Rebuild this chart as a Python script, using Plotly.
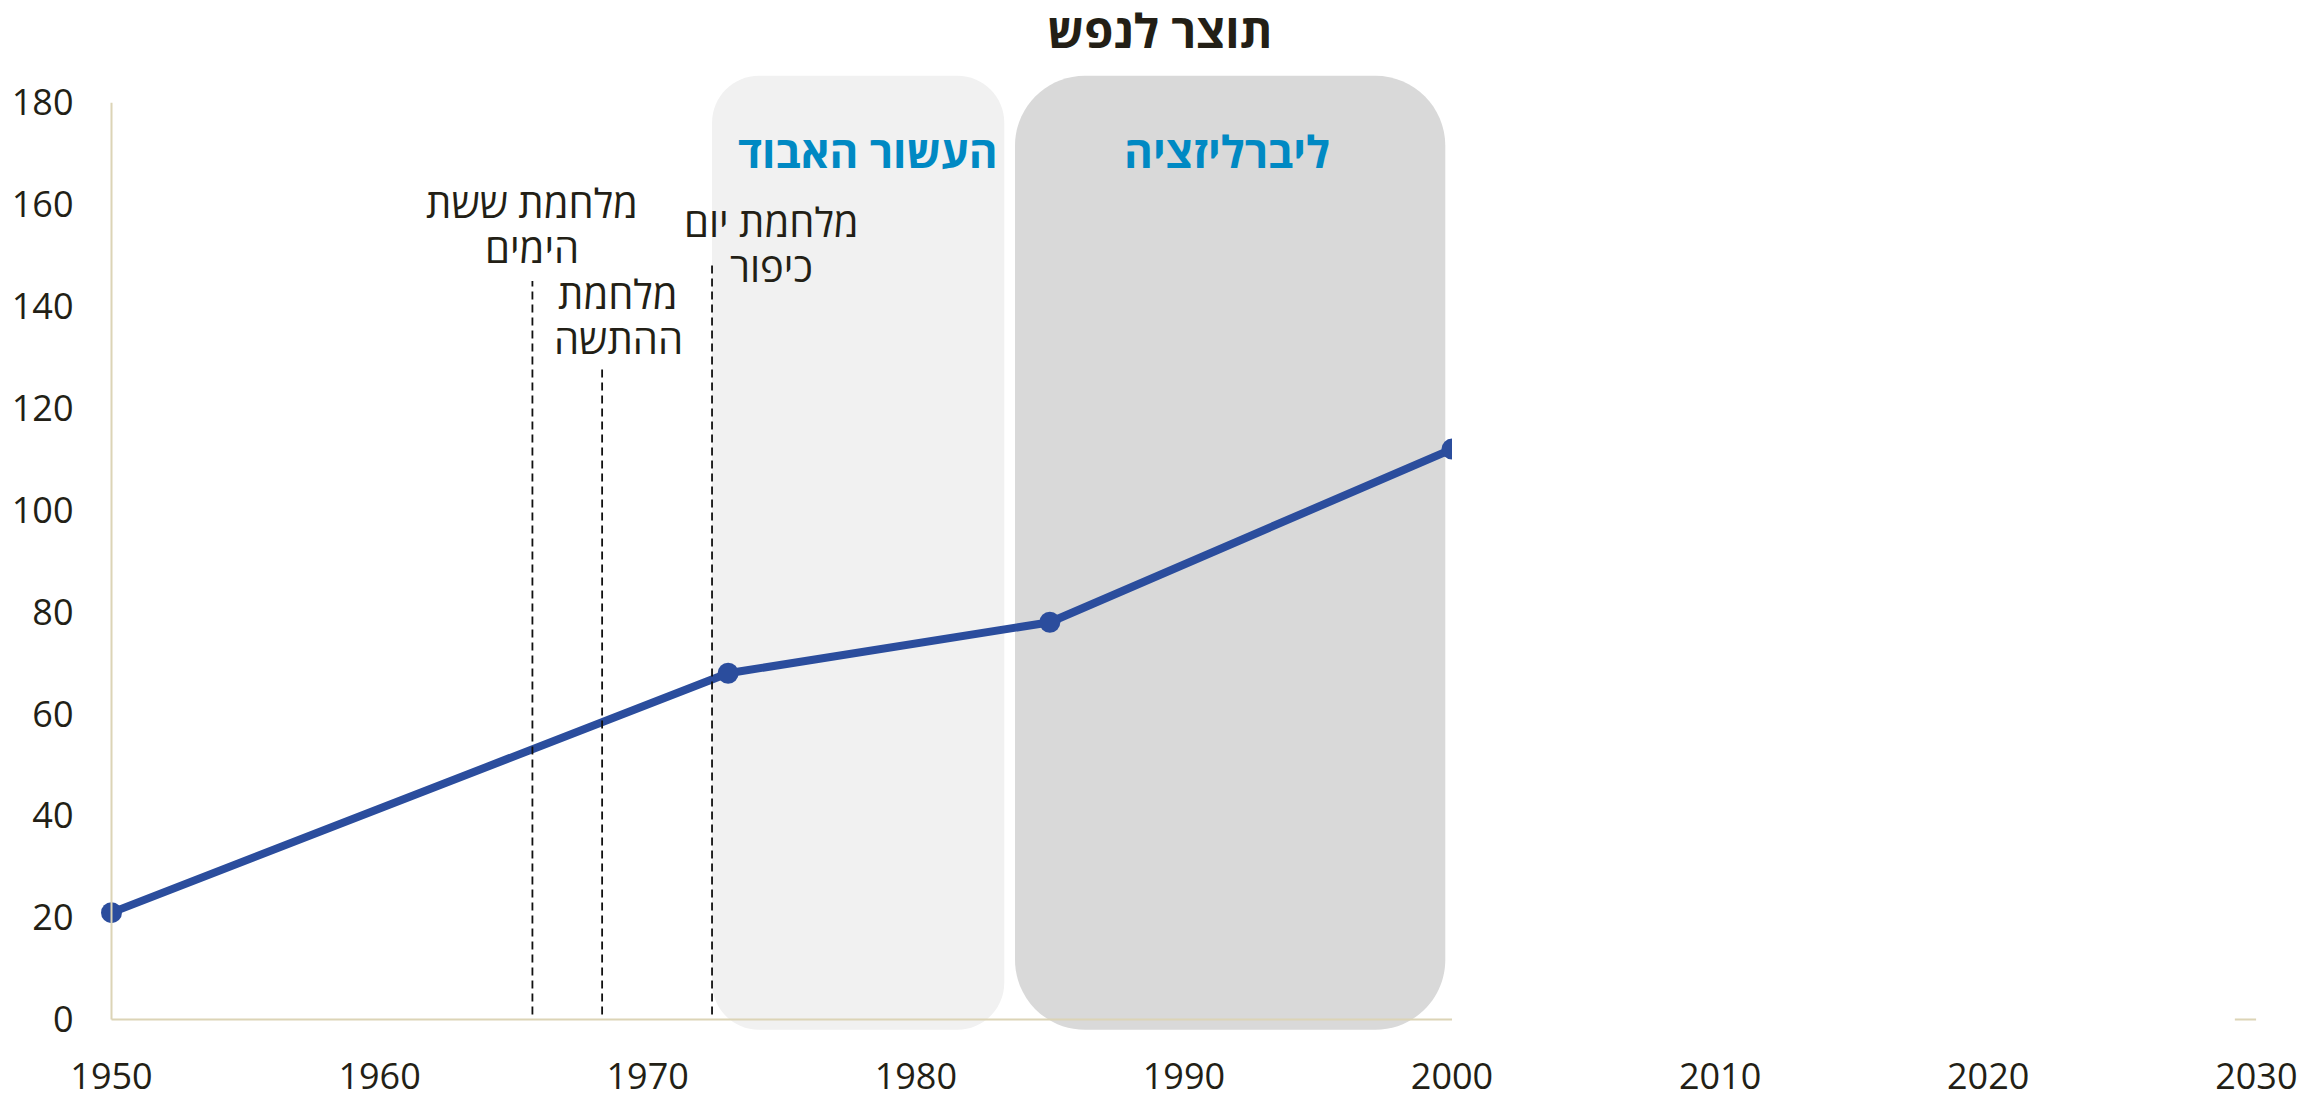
import plotly.graph_objects as go

# ---------------- data ----------------
years = [1950, 1973, 1985, 2000]
gdp_per_capita = [21, 68, 78, 112]

war_names = [["מלחמת ששת", "הימים"], ["מלחמת", "ההתשה"], ["מלחמת יום", "כיפור"]]
war_years = [1965.7, 1968.3, 1972.4]
war_line_tops = [145, 128, 149]
war_label_x = [1965.7, 1968.9, 1974.6]
war_label_y = [160.4, 142.6, 156.7]   # first line centre

era_names = ["העשור האבוד", "ליברליזציה"]
era_start = [1972.4, 1983.7]
era_end = [1983.3, 1999.75]
era_label_x = [1978.2, 1991.6]
era_label_y = [170.5, 170.5]
era_colors = ["#f1f1f1", "#d9d9d9"]
era_radius_px = [47, 70]

x_ticks = [1950, 1960, 1970, 1980, 1990, 2000, 2010, 2020, 2030]
y_ticks = [0, 20, 40, 60, 80, 100, 120, 140, 160, 180]

title_text = "תוצר לנפש"

# ---------------- geometry ----------------
W, H = 2300, 1094
MT, MB = 67, 54
Y_RANGE = [-4, 187]
px_1950 = 111.5
px_per_year = 26.81
px_per_unit = (H - MT - MB) / (Y_RANGE[1] - Y_RANGE[0])
LINE_GAP_PX = 45


def xfrac(year):
    return (px_1950 + (year - 1950) * px_per_year) / W


FONT = "Open Sans, DejaVu Sans, sans-serif"
TXT = "#231f16"
AXIS_COL = "#dcd4b6"
BLUE_TXT = "#0089c3"
LINE_COL = "#2b4d9d"


def rounded_rect(x0, x1, y0, y1, r_px):
    rx = r_px / px_per_year
    ry = r_px / px_per_unit
    k = 0.5523
    p = [
        f"M {x0 + rx},{y1}",
        f"L {x1 - rx},{y1}",
        f"C {x1 - rx + k * rx},{y1} {x1},{y1 - ry + k * ry} {x1},{y1 - ry}",
        f"L {x1},{y0 + ry}",
        f"C {x1},{y0 + ry - k * ry} {x1 - rx + k * rx},{y0} {x1 - rx},{y0}",
        f"L {x0 + rx},{y0}",
        f"C {x0 + rx - k * rx},{y0} {x0},{y0 + ry - k * ry} {x0},{y0 + ry}",
        f"L {x0},{y1 - ry}",
        f"C {x0},{y1 - ry + k * ry} {x0 + rx - k * rx},{y1} {x0 + rx},{y1}",
        "Z",
    ]
    return " ".join(p)


fig = go.Figure()

fig.add_trace(go.Scatter(
    x=years, y=gdp_per_capita, mode="lines+markers",
    line=dict(color=LINE_COL, width=8),
    marker=dict(color=LINE_COL, size=21),
    cliponaxis=True, showlegend=False, hoverinfo="x+y",
    xaxis="x", yaxis="y",
))
# empty trace to host the tick axis
fig.add_trace(go.Scatter(x=[], y=[], xaxis="x2", yaxis="y", showlegend=False, hoverinfo="skip"))

shapes = []
for s, e, c, r in zip(era_start, era_end, era_colors, era_radius_px):
    shapes.append(dict(type="path", xref="x", yref="y", layer="below",
                       path=rounded_rect(s, e, -2.0, 185.3, r),
                       fillcolor=c, line=dict(width=0)))
# axis lines
shapes.append(dict(type="line", xref="x", yref="y", x0=1950, x1=1950, y0=0, y1=180,
                   line=dict(color=AXIS_COL, width=2)))
shapes.append(dict(type="line", xref="x", yref="y", x0=1950, x1=2000, y0=0, y1=0,
                   line=dict(color=AXIS_COL, width=2)))
shapes.append(dict(type="line", xref="x2", yref="y", x0=2029.2, x1=2030, y0=0, y1=0,
                   line=dict(color=AXIS_COL, width=2)))
for wy, top in zip(war_years, war_line_tops):
    shapes.append(dict(type="line", xref="x", yref="y", x0=wy, x1=wy, y0=1, y1=top,
                       line=dict(color="#111111", width=1.8, dash="8px,5px")))

annotations = []
for lines, x, y in zip(war_names, war_label_x, war_label_y):
    for i, line in enumerate(lines):
        annotations.append(dict(text=line, x=x, y=y - i * LINE_GAP_PX / px_per_unit,
                                xref="x", yref="y", showarrow=False,
                                xanchor="center", yanchor="middle", borderpad=0,
                                font=dict(family=FONT, size=40, color=TXT)))
for name, x, y in zip(era_names, era_label_x, era_label_y):
    annotations.append(dict(text=f"<b>{name}</b>", x=x, y=y, xref="x", yref="y", showarrow=False,
                            xanchor="center", yanchor="middle",
                            font=dict(family=FONT, size=44, color=BLUE_TXT)))

fig.update_layout(
    width=W, height=H,
    margin=dict(l=0, r=0, t=MT, b=MB, autoexpand=False),
    paper_bgcolor="white", plot_bgcolor="rgba(0,0,0,0)",
    title=dict(text=f"<b>{title_text}</b>", x=1160 / W, xanchor="center",
               y=1 - 32 / H, yanchor="middle", font=dict(family=FONT, size=47, color=TXT),
               automargin=False),
    xaxis=dict(range=[1948, 2000], domain=[xfrac(1948), xfrac(2000)], anchor="y",
               visible=False, fixedrange=True, automargin=False),
    xaxis2=dict(range=[1950, 2030], domain=[xfrac(1950), xfrac(2030)], anchor="y",
                tickvals=x_ticks, ticktext=[str(t) for t in x_ticks],
                showgrid=False, zeroline=False, showline=False, ticks="",
                ticklabelstandoff=12, automargin=False,
                tickfont=dict(family=FONT, size=36, color=TXT)),
    yaxis=dict(range=Y_RANGE, domain=[0, 1], anchor="free", position=xfrac(1950),
               tickvals=y_ticks, ticktext=[str(t) for t in y_ticks],
               showgrid=False, zeroline=False, showline=False, ticks="",
               ticklabelstandoff=38, automargin=False,
               tickfont=dict(family=FONT, size=36, color=TXT)),
    shapes=shapes, annotations=annotations,
    showlegend=False,
)

fig.write_html("out.html", config={"displayModeBar": False},
               post_script="document.body.style.margin='0';document.body.style.overflow='hidden';")
